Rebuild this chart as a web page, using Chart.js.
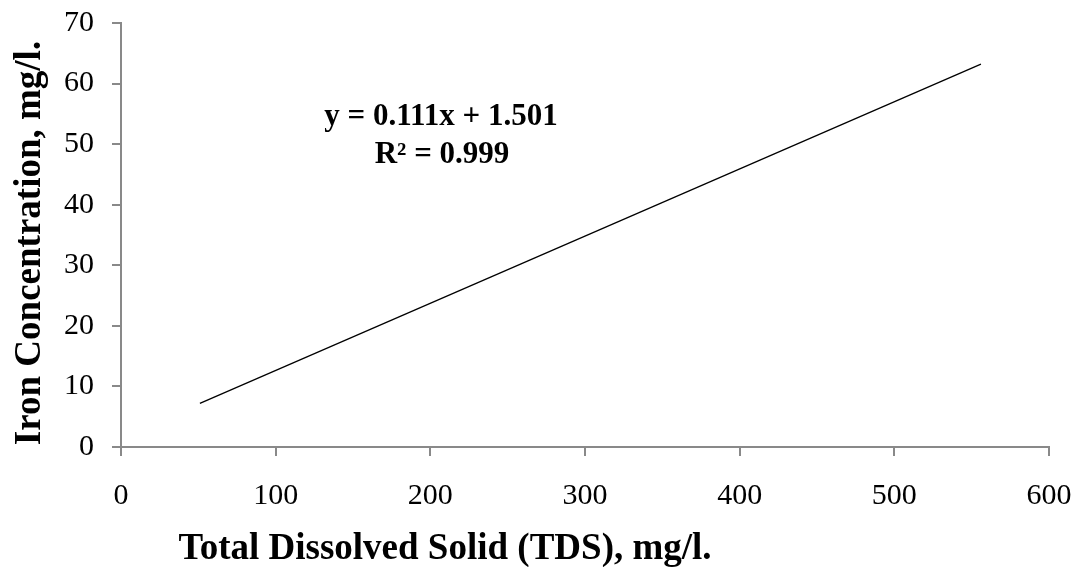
<!DOCTYPE html>
<html>
<head>
<meta charset="utf-8">
<style>
html,body{margin:0;padding:0;background:#fff;}
#wrap{width:1078px;height:567px;position:relative;}
</style>
<script src="https://cdn.jsdelivr.net/npm/chart.js@4/dist/chart.umd.min.js"></script>
</head>
<body>
<div id="wrap"><canvas id="c" width="1078" height="567"></canvas></div>
<script>
// Data (trendline endpoints)
const tdsValues = [51, 556];
const ironValues = [7.2, 63.2];
const xTicks = [0, 100, 200, 300, 400, 500, 600];
const yTicks = [0, 10, 20, 30, 40, 50, 60, 70];
const xTitle = 'Total Dissolved Solid (TDS), mg/l.';
const yTitle = 'Iron Concentration, mg/l.';
const eqLines = ['y = 0.111x + 1.501', 'R\u00B2 = 0.999'];

const serif = "'Liberation Serif', 'Times New Roman', serif";
const axisColor = '#898989';

const titlesPlugin = {
  id: 'titles',
  afterDraw(chart) {
    const ctx = chart.ctx;
    ctx.save();
    ctx.fillStyle = '#000';
    ctx.font = 'bold 37px ' + serif;
    ctx.textAlign = 'center';
    ctx.textBaseline = 'alphabetic';
    ctx.fillText(xTitle, 445, 559);
    ctx.save();
    ctx.translate(40, 243);
    ctx.rotate(-Math.PI / 2);
    ctx.fillText(yTitle, 0, 0);
    ctx.restore();
    ctx.font = 'bold 31px ' + serif;
    ctx.fillText(eqLines[0], 441, 125);
    ctx.fillText(eqLines[1], 442, 163);
    ctx.restore();
  }
};

const points = tdsValues.map((x, i) => ({x: x, y: ironValues[i]}));

new Chart(document.getElementById('c'), {
  type: 'scatter',
  data: {
    datasets: [{
      data: points,
      showLine: true,
      borderColor: '#000',
      borderWidth: 1.3,
      pointRadius: 0,
      fill: false
    }]
  },
  options: {
    responsive: false,
    animation: false,
    layout: {padding: {left: 0, right: 29, top: 23, bottom: 0}},
    plugins: {legend: {display: false}, tooltip: {enabled: false}},
    scales: {
      x: {
        type: 'linear',
        min: 0, max: 600,
        afterBuildTicks(s) { s.ticks = xTicks.map(v => ({value: v})); },
        afterFit(s) { s.height = 120; s.paddingLeft = 0; s.paddingRight = 0; },
        grid: {display: true, drawOnChartArea: false, drawTicks: true, tickLength: 9, color: axisColor, lineWidth: 2},
        border: {display: true, color: axisColor, width: 2},
        ticks: {color: '#000', font: {family: serif, size: 30}, padding: 22, maxRotation: 0}
      },
      y: {
        type: 'linear',
        min: 0, max: 70,
        afterBuildTicks(s) { s.ticks = yTicks.map(v => ({value: v})); },
        afterFit(s) { s.width = 121; s.paddingTop = 0; s.paddingBottom = 0; },
        grid: {display: true, drawOnChartArea: false, drawTicks: true, tickLength: 9, color: axisColor, lineWidth: 2},
        border: {display: true, color: axisColor, width: 2},
        ticks: {color: '#000', font: {family: serif, size: 30}, padding: 18}
      }
    }
  },
  plugins: [titlesPlugin]
});
</script>
</body>
</html>
